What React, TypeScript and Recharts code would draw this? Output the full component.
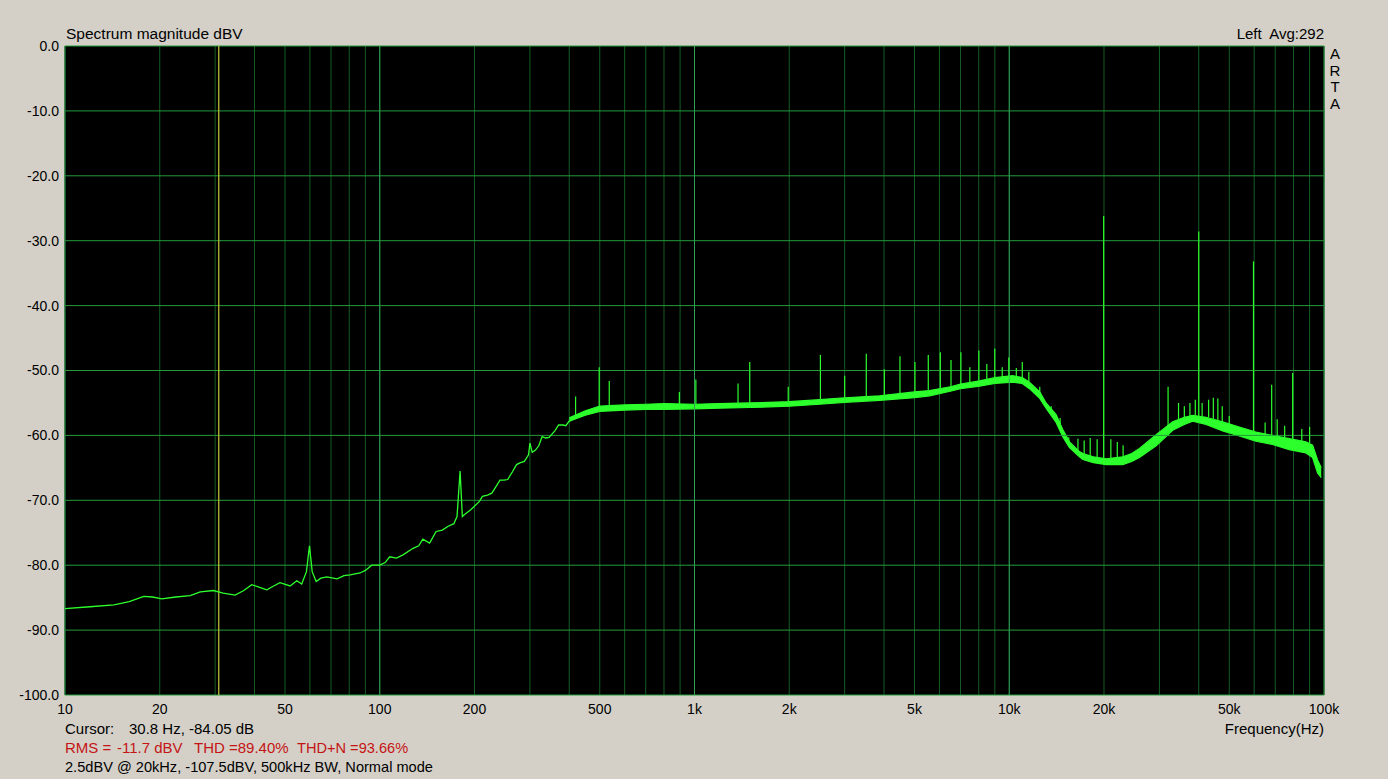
import React from 'react';
import {
    ComposedChart,
    Line,
    Area,
    XAxis,
    YAxis,
    CartesianGrid,
    ReferenceLine
} from 'recharts';

// grid / tick values
const gridFreqs = [
    10, 20, 30, 40, 50, 60, 70, 80, 90,
    100, 200, 300, 400, 500, 600, 700, 800, 900,
    1000, 2000, 3000, 4000, 5000, 6000, 7000, 8000, 9000,
    10000, 20000, 30000, 40000, 50000, 60000, 70000, 80000, 90000, 100000
];
const labelFreqs: Record<number, string> = {
    10: '10', 20: '20', 50: '50', 100: '100', 200: '200', 500: '500',
    1000: '1k', 2000: '2k', 5000: '5k', 10000: '10k', 20000: '20k', 50000: '50k', 100000: '100k'
};
const decadeFreqs = [100, 1000, 10000];
const dbTicks = [0, -10, -20, -30, -40, -50, -60, -70, -80, -90, -100];
const cursorFreq = 30.8;

// thin low-frequency part of the spectrum (Hz, dBV)
const lowFreqs = [
    10, 12, 14.3, 16, 17.8, 19, 20.3, 22.5, 25, 26.9, 29.6, 31.8, 34.7, 37, 39.2, 41.5, 43.8, 46, 48.2,
    51.9, 54.5, 56.5, 58.5, 59.8, 61, 62.8, 65, 67.9, 73.2, 77, 80.5, 86.6, 90, 94.3, 100, 104, 107.6,
    113, 118.6, 127.6, 133, 137, 144, 151, 158, 165, 172, 176, 180, 183, 186, 195, 207, 212, 220, 227, 234,
    241, 248, 255, 264, 272, 280, 288, 297, 300, 305, 312, 320, 328, 337, 345, 360, 370, 382, 390, 400, 419
];
const lowLevels = [
    -86.7, -86.4, -86.1, -85.6, -84.8, -84.9, -85.2, -84.9, -84.7, -84.1, -83.9, -84.3, -84.6, -83.9, -83.0, -83.4, -83.8, -83.2, -82.7,
    -83.2, -82.4, -82.9, -81.0, -77.0, -81.0, -82.5, -82.0, -81.8, -82.1, -81.6, -81.5, -81.2, -80.8, -80.0, -80.0, -79.6, -78.7,
    -78.9, -78.4, -77.4, -77.0, -76.0, -76.6, -74.8, -74.6, -74.0, -73.6, -72.5, -65.5, -72.5, -72.2, -71.4, -70.2, -69.4, -69.2, -68.9, -67.9,
    -66.9, -66.9, -66.8, -65.6, -64.5, -64.2, -64.0, -63.0, -61.2, -62.6, -62.3, -61.6, -60.2, -60.4, -60.3, -59.3, -58.4, -58.4, -58.5, -57.8, -57.3
];

// noisy band, 400 Hz .. 100 kHz
const bandFreqs = [
    400, 450, 500, 600, 700, 800, 1000, 1200, 1500, 2000, 2500, 3000, 3874, 5000, 5585, 6500, 7000, 8051, 9000,
    10254, 11000, 11590, 12500, 13090, 14090, 14790, 15540, 16710, 17130, 18500, 20330, 22950, 24500, 25920,
    29290, 33060, 36000, 38270, 42200, 47640, 53800, 60770, 68650, 77530, 87630, 92000, 95400, 98000
];
const bandLow = [
    -57.8, -56.9, -56.3, -56.1, -56.0, -56.0, -55.9, -55.8, -55.7, -55.5, -55.2, -54.9, -54.6, -54.2, -53.9, -53.2, -52.8, -52.4, -52.0,
    -51.8, -52.0, -52.8, -54.3, -55.8, -58.0, -60.2, -61.9, -63.3, -63.7, -64.2, -64.5, -64.5, -64.0, -63.4,
    -61.6, -59.2, -58.3, -57.8, -58.3, -59.3, -60.1, -60.9, -61.4, -62.2, -62.7, -63.4, -65.8, -66.5
];
const bandHigh = [
    -57.3, -56.2, -55.5, -55.3, -55.2, -55.1, -55.2, -55.1, -55.0, -54.8, -54.5, -54.2, -53.9, -53.3, -53.1, -52.5, -52.1, -51.6, -51.1,
    -50.8, -51.1, -51.8, -53.3, -55.0, -56.8, -59.1, -61.0, -62.5, -62.8, -63.3, -63.6, -63.3, -62.8, -62.0,
    -59.9, -57.9, -57.2, -56.9, -57.2, -57.9, -58.7, -59.5, -60.0, -60.5, -61.0, -61.5, -63.8, -65.0
];

// harmonic / spur lines
const spikeFreqs = [
    419, 498, 536, 895, 1010, 1375, 1498, 1985, 2512, 3000, 3514, 4010, 4496, 5016, 5530, 6040, 6530, 7020, 7495,
    8006, 8486, 8995, 9500, 9970, 10530, 11000, 11540, 12500, 13590, 14510, 15460, 16530, 17300, 18080, 19020,
    19950, 21030, 22040, 23000, 31960, 34500, 36000, 37500, 39000, 40000, 41000, 43000, 44500, 46000, 47500,
    50000, 59700, 65000, 68200, 71000, 75000, 79500, 85000, 90000
];
const spikeTops = [
    -54.0, -49.5, -51.6, -53.3, -51.4, -52.0, -48.7, -52.5, -47.6, -50.8, -47.4, -49.8, -47.8, -48.7, -47.6, -47.2, -48.4, -47.2, -49.5,
    -46.9, -49.0, -46.6, -49.5, -48.0, -49.6, -48.7, -50.2, -52.5, -55.5, -57.3, -60.3, -60.5, -60.8, -60.4, -60.6,
    -26.2, -60.6, -61.0, -61.5, -52.5, -55.0, -55.5, -55.0, -54.5, -28.6, -55.0, -54.5, -54.2, -54.3, -55.5,
    -57.0, -33.2, -58.0, -52.2, -57.5, -58.5, -50.4, -59.0, -58.7
];
const spikeBases = [
    -57.3, -56.0, -55.8, -55.5, -55.5, -55.3, -55.3, -55.0, -54.8, -54.5, -54.3, -54.0, -53.8, -53.6, -53.4, -53.1, -52.8, -52.5, -52.2,
    -52.0, -51.8, -51.6, -51.5, -51.3, -51.2, -51.4, -52.0, -53.5, -56.0, -58.5, -61.5, -63.0, -63.5, -63.8, -64.0,
    -64.0, -64.0, -64.0, -64.0, -60.0, -58.0, -57.5, -57.0, -57.0, -57.0, -57.0, -57.2, -57.5, -58.0, -58.5,
    -59.0, -59.5, -60.0, -60.0, -60.2, -60.5, -60.5, -61.0, -61.2
];

const lowData = lowFreqs.map((f, i) => ({ f, db: lowLevels[i] }));
const bandData = bandFreqs.map((f, i) => ({ f, range: [bandLow[i], bandHigh[i]] }));

const TRACE = '#2cff2c';
const FONT = '"Liberation Sans", Arial, sans-serif';

const txt = (extra: React.CSSProperties): React.CSSProperties => ({
    position: 'absolute',
    fontFamily: FONT,
    fontSize: 15,
    lineHeight: '16px',
    color: '#000',
    whiteSpace: 'pre',
    ...extra
});

export default function App() {
    return (
        <div style={{ position: 'absolute', left: 0, top: 0, width: 1388, height: 779, background: '#d4d0c8', overflow: 'hidden' }}>
            <ComposedChart
                width={1388}
                height={779}
                margin={{ top: 46, right: 64, bottom: 64, left: 0 }}
            >
                <CartesianGrid horizontal={false} stroke="#135e22" fill="#000" />
                <XAxis
                    type="number"
                    dataKey="f"
                    scale="log"
                    domain={[10, 100000]}
                    ticks={gridFreqs}
                    tickFormatter={(v: number) => labelFreqs[v] ?? ''}
                    allowDataOverflow
                    axisLine={false}
                    tickLine={false}
                    tickSize={0}
                    tickMargin={9}
                    height={20}
                    tick={{ fill: '#000', fontSize: 14, fontFamily: FONT }}
                    interval={0}
                />
                <YAxis
                    type="number"
                    domain={[-100, 0]}
                    ticks={dbTicks}
                    tickFormatter={(v: number) => v.toFixed(1)}
                    allowDataOverflow
                    axisLine={false}
                    tickLine={false}
                    tickSize={0}
                    tickMargin={6}
                    width={65}
                    tick={{ fill: '#000', fontSize: 14, fontFamily: FONT }}
                    interval={0}
                />
                {dbTicks.map(d => (
                    <ReferenceLine key={'h' + d} y={d} stroke="#239b3a" strokeWidth={1} />
                ))}
                {decadeFreqs.map(f => (
                    <ReferenceLine key={'d' + f} x={f} stroke="#2f9f55" strokeWidth={1} />
                ))}
                <ReferenceLine x={10} stroke="#1f7a3a" />
                <ReferenceLine x={100000} stroke="#1f7a3a" />
                <ReferenceLine x={cursorFreq} stroke="#c8c83c" strokeWidth={1.2} />
                <Area
                    data={bandData}
                    dataKey="range"
                    type="linear"
                    stroke={TRACE}
                    strokeWidth={1.2}
                    fill={TRACE}
                    fillOpacity={1}
                    dot={false}
                    activeDot={false}
                    isAnimationActive={false}
                />
                <Line
                    data={lowData}
                    dataKey="db"
                    type="linear"
                    stroke={TRACE}
                    strokeWidth={1.3}
                    dot={false}
                    activeDot={false}
                    isAnimationActive={false}
                />
                {spikeFreqs.map((f, i) => (
                    <ReferenceLine
                        key={'s' + f}
                        segment={[{ x: f, y: spikeBases[i] }, { x: f, y: spikeTops[i] }]}
                        stroke={TRACE}
                        strokeWidth={1.2}
                    />
                ))}
            </ComposedChart>

            <div style={txt({ left: 66, top: 26, fontSize: 15.5 })}>Spectrum magnitude dBV</div>
            <div style={txt({ right: 1388 - 1324, top: 26 })}>Left  Avg:292</div>
            <div style={txt({ left: 1329, top: 46, width: 12, textAlign: 'center', lineHeight: '16.5px', whiteSpace: 'normal' })}>
                A<br />R<br />T<br />A
            </div>
            <div style={txt({ right: 1388 - 1324, top: 721 })}>Frequency(Hz)</div>

            <div style={txt({ left: 65, top: 721 })}>Cursor:</div>
            <div style={txt({ left: 129, top: 721 })}>30.8 Hz, -84.05 dB</div>

            <div style={txt({ left: 65, top: 740, color: '#c41414' })}>RMS =</div>
            <div style={txt({ left: 117, top: 740, color: '#c41414' })}>-11.7 dBV</div>
            <div style={txt({ left: 194, top: 740, color: '#c41414' })}>THD =89.40%</div>
            <div style={txt({ left: 297, top: 740, color: '#c41414', fontSize: 14.6 })}>THD+N =93.66%</div>

            <div style={txt({ left: 65, top: 759, fontSize: 14.6 })}>2.5dBV @ 20kHz, -107.5dBV, 500kHz BW, Normal mode</div>
        </div>
    );
}
